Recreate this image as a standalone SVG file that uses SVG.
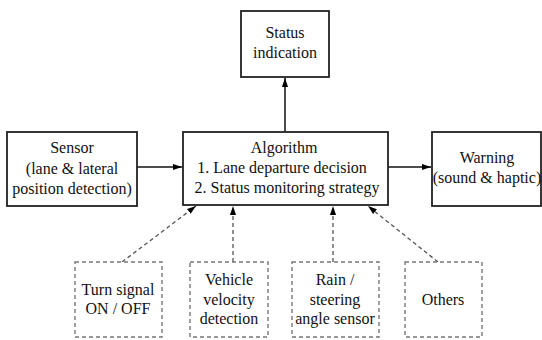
<svg xmlns="http://www.w3.org/2000/svg" width="542" height="340" viewBox="0 0 542 340">
<defs>
<marker id="ah" viewBox="0 0 10 10" refX="10" refY="5" markerWidth="9" markerHeight="9" markerUnits="userSpaceOnUse" orient="auto">
<path d="M0,1.6 L10,5 L0,8.4 z" fill="#000"/>
</marker>
</defs>
<style>
text{font-family:'Liberation Serif','Times New Roman',Tinos,'DejaVu Serif',serif;font-size:16px;fill:#111;text-anchor:middle}
.box{fill:#fff;stroke:#222;stroke-width:1.8}
.dbox{fill:#fff;stroke:#777;stroke-width:1.4;stroke-dasharray:4 3}
.sol{stroke:#111;stroke-width:1.5;fill:none}
.dash{stroke:#555;stroke-width:1.3;fill:none;stroke-dasharray:4 3}
</style>
<rect width="542" height="340" fill="#fff"/>
<g id="connectors">
<line class="sol" x1="285" y1="132" x2="285" y2="78" marker-end="url(#ah)"/>
<line class="sol" x1="137" y1="167" x2="182" y2="167" marker-end="url(#ah)"/>
<line class="sol" x1="388" y1="167" x2="431" y2="167" marker-end="url(#ah)"/>
<line class="dash" x1="122" y1="262" x2="196" y2="206" marker-end="url(#ah)"/>
<line class="dash" x1="233" y1="262" x2="233" y2="206" marker-end="url(#ah)"/>
<line class="dash" x1="333" y1="262" x2="333" y2="206" marker-end="url(#ah)"/>
<line class="dash" x1="438" y1="262" x2="368" y2="206" marker-end="url(#ah)"/>
</g>
<g id="status">
<rect class="box" x="241" y="11" width="88" height="66"/>
<text x="285" y="38">Status</text>
<text x="285" y="58">indication</text>
</g>
<g id="sensor">
<rect class="box" x="7" y="132" width="130" height="74"/>
<text x="72" y="153">Sensor</text>
<text x="72" y="174">(lane &amp; lateral</text>
<text x="72" y="194">position detection)</text>
</g>
<g id="algorithm">
<rect class="box" x="183" y="132" width="205" height="73"/>
<text x="284" y="153">Algorithm</text>
<text x="282" y="173">1. Lane departure decision</text>
<text x="287" y="193">2. Status monitoring strategy</text>
</g>
<g id="warning">
<rect class="box" x="432" y="132" width="109" height="74"/>
<text x="487" y="163">Warning</text>
<text x="487" y="183">(sound &amp; haptic)</text>
</g>
<g id="turn">
<rect class="dbox" x="75" y="262" width="87" height="75"/>
<text x="118" y="295">Turn signal</text>
<text x="118" y="314">ON / OFF</text>
</g>
<g id="vehicle">
<rect class="dbox" x="190" y="262" width="78" height="75"/>
<text x="229" y="285">Vehicle</text>
<text x="229" y="305">velocity</text>
<text x="229" y="324">detection</text>
</g>
<g id="rain">
<rect class="dbox" x="292" y="262" width="87" height="75"/>
<text x="335" y="285">Rain /</text>
<text x="335" y="305">steering</text>
<text x="335" y="324">angle sensor</text>
</g>
<g id="others">
<rect class="dbox" x="405" y="262" width="77" height="75"/>
<text x="443" y="305">Others</text>
</g>
</svg>
